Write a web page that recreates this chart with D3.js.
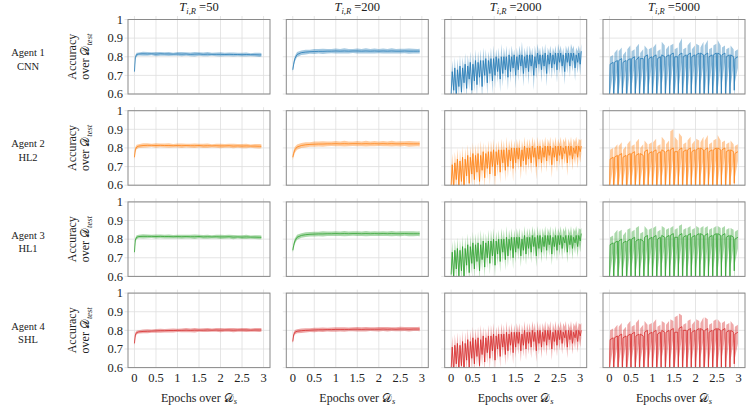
<!DOCTYPE html>
<html>
<head>
<meta charset="utf-8">
<script src="https://cdn.jsdelivr.net/npm/d3@7"></script>
<style>
	body { margin: 0; background: #fff; }
</style>
</head>
<body>
<svg id="chart" width="747" height="406"></svg>
<script>
// labels
var agents = ["Agent 1", "Agent 2", "Agent 3", "Agent 4"];
var nets = ["CNN", "HL2", "HL1", "SHL"];
var thresholds = [50, 200, 2000, 5000];
var colors = ["#1f77b4", "#ff7f0e", "#2ca02c", "#d62728"];
var xTicks = [0, 0.5, 1, 1.5, 2, 2.5, 3];
var xTickLabels = ["0", "0.5", "1", "1.5", "2", "2.5", "3"];
var yTicks = [0.6, 0.7, 0.8, 0.9, 1];
var yTickLabels = ["0.6", "0.7", "0.8", "0.9", "1"];

// smooth runs (T=50, T=200): epochs, mean and std (in %)
var xSmooth = [0, 0.02, 0.05, 0.1, 0.2, 0.3, 0.4, 0.5, 0.6, 0.7, 0.8, 0.9, 1, 1.1, 1.2, 1.3, 1.4, 1.5, 1.6, 1.7, 1.8, 1.9, 2, 2.1, 2.2, 2.3, 2.4, 2.5, 2.6, 2.7, 2.8, 2.9, 2.95];

var mean50_1 = [72, 79.5, 81.2, 81.5, 81.6, 81.5, 81.6, 81.4, 81.6, 81.5, 81.5, 81.4, 81.5, 81.4, 81.5, 81.3, 81.4, 81.5, 81.3, 81.4, 81.3, 81.3, 81.3, 81.2, 81.3, 81.2, 81.2, 81.1, 81.2, 81.1, 81.1, 81.0, 81.0];
var sd50_1 = [1, 1.3, 1, 0.8, 1.1, 1, 0.8, 1.1, 1, 0.9, 1.1, 0.8, 1, 1.1, 0.9, 1, 1.2, 0.9, 1, 1.1, 0.8, 1, 1.1, 0.9, 1, 1.1, 0.9, 1, 1.1, 0.8, 1, 1.1, 1];
var mean200_1 = [73, 76, 79, 81.2, 82.2, 82.5, 82.7, 82.8, 82.9, 82.9, 83, 83, 83.1, 83, 83.1, 83, 83.1, 83.1, 83, 83.1, 83, 83.1, 83, 83.1, 83, 83.1, 83, 83, 83.1, 83, 83, 83, 83];
var sd200_1 = [1.2, 1.6, 1.5, 1.3, 1.2, 1.3, 1.1, 1.3, 1.2, 1.4, 1.2, 1.1, 1.3, 1.2, 1.4, 1.2, 1.1, 1.3, 1.2, 1.4, 1.2, 1.3, 1.1, 1.3, 1.2, 1.4, 1.2, 1.3, 1.2, 1.4, 1.3, 1.2, 1.3];

var mean50_2 = [75, 79, 80.5, 81, 81.3, 81.4, 81.4, 81.3, 81.4, 81.3, 81.3, 81.2, 81.3, 81.2, 81.3, 81.2, 81.2, 81.3, 81.1, 81.2, 81.1, 81.2, 81.1, 81.1, 81.2, 81.0, 81.1, 81.0, 81.1, 81.0, 81.0, 80.9, 80.9];
var sd50_2 = [1.5, 1.4, 1.2, 1, 1.2, 1.1, 0.9, 1.2, 1, 1.1, 1.2, 0.9, 1.1, 1.2, 1, 1.1, 1.2, 1, 1.1, 1.2, 0.9, 1.1, 1.2, 1, 1.1, 1.2, 1, 1.1, 1.2, 0.9, 1.1, 1.2, 1.1];
var mean200_2 = [75, 77, 79, 80.5, 81.3, 81.7, 81.9, 82, 82.1, 82.1, 82.2, 82.2, 82.3, 82.2, 82.3, 82.2, 82.3, 82.3, 82.2, 82.3, 82.2, 82.3, 82.2, 82.3, 82.2, 82.3, 82.2, 82.2, 82.3, 82.2, 82.2, 82.2, 82.2];
var sd200_2 = [1.6, 1.7, 1.6, 1.4, 1.3, 1.4, 1.2, 1.4, 1.3, 1.5, 1.3, 1.2, 1.4, 1.3, 1.5, 1.3, 1.2, 1.4, 1.3, 1.5, 1.3, 1.4, 1.2, 1.4, 1.3, 1.5, 1.3, 1.4, 1.3, 1.5, 1.4, 1.3, 1.4];

var mean50_3 = [73, 79.5, 81, 81.4, 81.5, 81.5, 81.5, 81.4, 81.5, 81.4, 81.4, 81.3, 81.4, 81.3, 81.4, 81.3, 81.3, 81.4, 81.2, 81.3, 81.2, 81.3, 81.2, 81.2, 81.3, 81.1, 81.2, 81.1, 81.2, 81.1, 81.1, 81.0, 81.0];
var sd50_3 = [1.2, 1.3, 1.1, 0.9, 1.1, 1, 0.9, 1.1, 1, 1, 1.1, 0.9, 1, 1.1, 1, 1, 1.2, 0.9, 1, 1.1, 0.9, 1, 1.1, 1, 1, 1.1, 0.9, 1, 1.1, 0.9, 1, 1.1, 1];
var mean200_3 = [74, 76.5, 79, 81, 82, 82.4, 82.6, 82.7, 82.8, 82.8, 82.9, 82.9, 83, 82.9, 83, 82.9, 83, 83, 82.9, 83, 82.9, 83, 82.9, 83, 82.9, 83, 82.9, 82.9, 83, 82.9, 82.9, 82.9, 82.9];
var sd200_3 = [1.3, 1.6, 1.5, 1.3, 1.2, 1.3, 1.2, 1.3, 1.2, 1.4, 1.2, 1.2, 1.3, 1.2, 1.4, 1.2, 1.2, 1.3, 1.2, 1.4, 1.2, 1.3, 1.2, 1.3, 1.2, 1.4, 1.2, 1.3, 1.2, 1.4, 1.3, 1.2, 1.3];

var mean50_4 = [73, 77.5, 78.8, 79.2, 79.4, 79.5, 79.6, 79.7, 79.8, 79.8, 79.9, 79.9, 80, 80, 80.1, 80, 80.1, 80.1, 80.1, 80.2, 80.1, 80.2, 80.1, 80.2, 80.2, 80.1, 80.2, 80.2, 80.2, 80.1, 80.2, 80.2, 80.2];
var sd50_4 = [1.4, 1.3, 1, 0.9, 1, 1.1, 0.9, 1, 1.1, 0.9, 1, 1.1, 0.9, 1, 1.1, 1, 1.2, 0.9, 1, 1.1, 0.9, 1, 1.1, 0.9, 1, 1.1, 0.9, 1, 1.1, 0.9, 1, 1.1, 1];
var mean200_4 = [74, 77.5, 79, 79.5, 79.8, 80, 80.1, 80.2, 80.3, 80.3, 80.4, 80.4, 80.5, 80.5, 80.5, 80.5, 80.6, 80.6, 80.5, 80.6, 80.6, 80.6, 80.6, 80.7, 80.6, 80.7, 80.6, 80.7, 80.7, 80.6, 80.7, 80.7, 80.7];
var sd200_4 = [1.3, 1.4, 1.2, 1.1, 1.2, 1.1, 1, 1.2, 1.1, 1.2, 1, 1.1, 1.2, 1.1, 1.2, 1, 1.1, 1.2, 1.1, 1.2, 1, 1.1, 1.2, 1.1, 1.2, 1, 1.1, 1.2, 1.1, 1.2, 1.1, 1.1, 1.2];

// T=2000: one reset every 0.06 epoch, values as (dip, plateau) pairs, in %
var step2000 = 0.06, offs2000 = [0, 0.025];

var mean2000_1 = [
	60,72, 62,74, 58,73, 64,75, 61,74,
	66,76, 63,75, 68,77, 62,76, 67,78,
	65,77, 69,78, 64,78, 70,79, 66,78,
	71,79, 67,79, 70,80, 72,79, 68,80,
	71,80, 73,80, 69,81, 72,80, 74,81,
	70,80, 73,81, 75,81, 71,80, 74,81,
	72,81, 75,81, 70,80, 74,82, 76,81,
	73,81, 75,82, 71,81, 76,82, 74,81,
	76,82, 73,82, 77,82, 75,81, 72,82,
	77,82, 75,82, 78,82, 74,81, 77,82, 76,83];
var lo2000_1 = [
	55,68, 56,70, 52,69, 58,71, 55,70,
	60,72, 57,71, 62,73, 54,72, 61,74,
	58,73, 63,74, 56,74, 64,75, 59,74,
	65,75, 60,75, 63,76, 66,75, 61,76,
	64,76, 67,76, 62,77, 66,76, 68,77,
	63,76, 67,77, 69,77, 64,76, 68,77,
	65,77, 69,77, 62,76, 68,78, 70,77,
	66,77, 69,78, 64,77, 70,78, 68,77,
	70,78, 66,78, 71,78, 69,77, 65,78,
	71,78, 69,78, 72,78, 67,77, 71,78, 70,79];
var hi2000_1 = [
	66,78, 68,80, 64,79, 70,81, 67,80,
	72,82, 69,81, 74,83, 68,82, 73,84,
	71,83, 75,84, 70,85, 76,84, 72,83,
	77,85, 73,86, 76,84, 78,85, 74,87,
	77,85, 79,86, 75,85, 78,86, 80,84,
	76,85, 79,86, 81,88, 77,85, 80,86,
	78,86, 81,85, 76,86, 80,87, 82,85,
	79,86, 81,87, 77,85, 82,86, 80,85,
	82,86, 79,87, 83,86, 81,85, 78,86,
	83,86, 81,87, 84,86, 80,85, 83,86, 82,87];

var mean2000_2 = [
	60,71, 58,72, 63,74, 59,73, 62,75,
	57,74, 65,76, 61,75, 66,77, 63,76,
	67,77, 62,76, 68,78, 64,77, 69,78,
	66,78, 70,79, 65,78, 71,79, 67,79,
	72,79, 68,80, 70,79, 73,80, 69,80,
	72,80, 74,80, 70,79, 73,81, 71,80,
	74,80, 72,81, 75,80, 70,81, 74,81,
	72,80, 75,81, 73,81, 76,81, 71,80,
	75,81, 73,81, 76,81, 74,80, 77,81,
	72,81, 76,81, 74,80, 77,81, 75,81, 78,81];
var lo2000_2 = [
	54,67, 52,68, 57,70, 53,69, 56,71,
	50,70, 59,72, 55,71, 60,73, 57,72,
	61,73, 55,72, 62,74, 58,73, 63,74,
	60,74, 64,75, 58,74, 65,75, 61,75,
	66,75, 62,76, 64,75, 67,76, 62,76,
	66,76, 68,76, 63,75, 67,77, 65,76,
	68,76, 66,77, 69,76, 63,77, 68,77,
	66,76, 69,77, 67,77, 70,77, 64,76,
	69,77, 67,77, 70,77, 68,76, 71,77,
	65,77, 70,77, 68,76, 71,77, 69,77, 72,77];
var hi2000_2 = [
	66,77, 64,78, 69,80, 65,79, 68,81,
	63,80, 71,82, 67,81, 72,83, 69,82,
	73,83, 68,84, 74,83, 70,82, 75,84,
	72,84, 76,85, 71,83, 77,84, 73,85,
	78,84, 74,86, 76,84, 79,85, 75,84,
	78,85, 80,85, 76,84, 79,86, 77,85,
	80,85, 78,86, 81,85, 76,86, 80,85,
	78,85, 81,86, 79,85, 82,86, 77,85,
	81,86, 79,85, 82,86, 80,85, 83,86,
	78,85, 82,86, 80,85, 83,86, 81,85, 84,85];

var mean2000_3 = [
	61,73, 59,74, 64,75, 60,74, 63,76,
	58,75, 66,77, 62,76, 67,78, 64,77,
	68,78, 63,77, 69,79, 65,78, 70,79,
	67,79, 71,80, 66,79, 72,80, 68,80,
	73,80, 69,81, 71,80, 74,81, 70,81,
	73,81, 75,81, 71,80, 74,82, 72,81,
	75,81, 73,82, 76,81, 71,82, 75,82,
	73,81, 76,82, 74,82, 77,82, 72,81,
	76,82, 74,82, 77,82, 75,81, 78,82,
	73,82, 77,82, 75,81, 78,82, 76,82, 79,83];
var lo2000_3 = [
	55,69, 53,70, 58,71, 54,70, 57,72,
	52,71, 60,73, 56,72, 61,74, 58,73,
	62,74, 57,73, 63,75, 59,74, 64,75,
	61,75, 65,76, 60,75, 66,76, 62,76,
	67,76, 63,77, 65,76, 68,77, 64,77,
	67,77, 69,77, 65,76, 68,78, 66,77,
	69,77, 67,78, 70,77, 65,78, 69,78,
	67,77, 70,78, 68,78, 71,78, 66,77,
	70,78, 68,78, 71,78, 69,77, 72,78,
	67,78, 71,78, 69,77, 72,78, 70,78, 73,79];
var hi2000_3 = [
	67,79, 65,80, 70,81, 66,80, 69,82,
	64,81, 72,83, 68,82, 73,84, 70,83,
	74,84, 69,85, 75,84, 71,83, 76,85,
	73,85, 77,86, 72,84, 78,85, 74,86,
	79,85, 75,87, 77,85, 80,86, 76,85,
	79,86, 81,86, 77,85, 80,87, 78,86,
	81,86, 79,87, 82,86, 77,87, 81,86,
	79,86, 82,87, 80,86, 83,87, 78,86,
	82,87, 80,86, 83,87, 81,86, 84,87,
	79,86, 83,87, 81,86, 84,87, 82,86, 85,86];

var mean2000_4 = [
	59,71, 57,72, 62,73, 58,72, 61,74,
	56,73, 64,75, 60,74, 65,76, 62,75,
	66,76, 61,75, 67,77, 63,76, 68,77,
	65,77, 69,78, 64,77, 70,78, 66,78,
	71,78, 67,79, 69,78, 72,79, 68,79,
	71,79, 73,79, 69,78, 72,80, 70,79,
	73,79, 71,80, 74,79, 69,80, 73,80,
	71,79, 74,80, 72,80, 75,80, 70,79,
	74,80, 72,80, 75,80, 73,79, 76,80,
	71,80, 75,80, 73,79, 76,80, 74,80, 77,80];
var lo2000_4 = [
	53,67, 51,68, 56,69, 52,68, 55,70,
	50,69, 58,71, 54,70, 59,72, 56,71,
	60,72, 55,71, 61,73, 57,72, 62,73,
	59,73, 63,74, 58,73, 64,74, 60,74,
	65,74, 61,75, 63,74, 66,75, 62,75,
	65,75, 67,75, 63,74, 66,76, 64,75,
	67,75, 65,76, 68,75, 63,76, 67,76,
	65,75, 68,76, 66,76, 69,76, 64,75,
	68,76, 66,76, 69,76, 67,75, 70,76,
	65,76, 69,76, 67,75, 70,76, 68,76, 71,76];
var hi2000_4 = [
	65,77, 63,78, 68,79, 64,78, 67,80,
	62,79, 70,81, 66,80, 71,82, 68,81,
	72,82, 67,83, 73,82, 69,81, 74,83,
	71,83, 75,84, 70,82, 76,83, 72,84,
	77,83, 73,85, 75,83, 78,84, 74,83,
	77,84, 79,84, 75,83, 78,85, 76,84,
	79,84, 77,85, 80,84, 75,85, 79,84,
	77,84, 80,85, 78,84, 81,85, 76,84,
	80,85, 78,84, 81,85, 79,84, 82,85,
	77,84, 81,85, 79,84, 82,85, 80,84, 83,84];

// T=5000: one reset every 0.1 epoch, values as (dip, after reset, before next reset), in %
var step5000 = 0.1, offs5000 = [0, 0.015, 0.085];

var mean5000_1 = [
	55,76,77, 52,77,78, 56,78,79, 54,77,78, 50,78,79,
	57,79,80, 53,78,80, 55,79,79, 51,80,81, 56,79,80,
	54,80,81, 52,79,80, 57,81,80, 53,80,81, 55,81,82,
	51,80,80, 56,81,82, 54,80,81, 52,81,82, 57,80,81,
	53,81,82, 55,82,81, 50,81,82, 56,80,81, 54,81,82,
	52,82,81, 57,81,82, 53,80,81, 55,81,80, 62,79,80];
var lo5000_1 = [
	45,60,72, 44,62,73, 46,61,74, 45,63,73, 43,60,74,
	47,64,75, 44,62,74, 46,63,75, 42,61,76, 47,64,75,
	45,63,76, 43,61,75, 48,65,76, 44,62,76, 46,64,77,
	42,60,75, 47,65,77, 45,63,76, 43,62,77, 48,64,76,
	44,63,77, 46,65,76, 41,60,77, 47,64,76, 45,63,77,
	43,62,76, 48,66,77, 44,63,76, 46,64,75, 52,66,74];
var hi5000_1 = [
	68,80,81, 66,82,84, 70,83,85, 67,81,83, 64,84,86,
	71,83,84, 66,85,87, 69,82,84, 63,86,84, 70,84,85,
	68,85,87, 65,83,84, 72,88,86, 66,84,86, 69,86,87,
	64,84,85, 70,87,90, 68,84,85, 65,86,88, 71,84,86,
	67,87,86, 69,85,88, 62,86,89, 70,84,85, 68,86,87,
	65,89,86, 71,85,86, 67,84,85, 69,86,84, 74,83,84];

var mean5000_2 = [
	54,74,75, 51,75,76, 56,76,77, 53,75,76, 50,76,77,
	57,77,78, 52,76,77, 55,77,76, 50,78,79, 56,77,78,
	53,78,79, 51,77,78, 57,79,78, 52,78,79, 55,79,80,
	50,78,78, 56,79,80, 53,78,79, 51,79,80, 57,78,79,
	52,79,80, 55,80,79, 49,79,80, 56,78,79, 53,79,80,
	51,80,79, 57,79,80, 52,78,79, 54,79,78, 61,77,78];
var lo5000_2 = [
	44,59,70, 43,61,71, 45,60,72, 44,62,71, 42,59,72,
	46,63,73, 43,61,72, 45,62,71, 41,60,74, 46,63,73,
	44,62,74, 42,60,73, 47,64,73, 43,61,74, 45,63,75,
	41,59,73, 46,64,75, 44,62,74, 42,61,75, 47,63,74,
	43,62,75, 45,64,74, 40,59,75, 46,63,74, 44,62,75,
	42,61,74, 47,65,75, 43,62,74, 45,63,73, 51,64,73];
var hi5000_2 = [
	67,79,80, 65,80,82, 69,81,83, 66,79,81, 63,82,84,
	70,81,82, 65,83,85, 68,80,82, 62,84,82, 69,82,83,
	67,83,85, 64,81,82, 71,86,84, 65,82,84, 68,89,90,
	63,86,84, 69,88,86, 67,82,83, 64,84,86, 70,82,84,
	66,85,84, 68,83,86, 61,84,87, 69,82,83, 67,84,85,
	64,87,84, 70,83,84, 66,82,83, 68,84,82, 73,81,82];

var mean5000_3 = [
	56,77,78, 53,78,79, 58,79,80, 55,78,79, 52,79,80,
	59,80,81, 54,79,80, 57,80,79, 52,81,82, 58,80,81,
	55,81,82, 53,80,81, 59,82,81, 54,81,82, 57,82,83,
	52,81,81, 58,82,83, 55,81,82, 53,82,83, 59,81,82,
	54,82,83, 57,83,82, 51,82,83, 58,81,82, 55,82,83,
	53,83,82, 59,82,83, 54,81,82, 56,82,81, 63,80,81];
var lo5000_3 = [
	46,61,73, 45,63,74, 47,62,75, 46,64,74, 44,61,75,
	48,65,76, 45,63,75, 47,64,74, 43,62,77, 48,65,76,
	46,64,77, 44,62,76, 49,66,76, 45,63,77, 47,65,78,
	43,61,76, 48,66,78, 46,64,77, 44,63,78, 49,65,77,
	45,64,78, 47,66,77, 42,61,78, 48,65,77, 46,64,78,
	44,63,77, 49,67,78, 45,64,77, 47,65,76, 53,67,75];
var hi5000_3 = [
	69,81,82, 67,83,85, 71,84,85, 68,82,84, 65,85,86,
	72,84,85, 67,86,87, 70,83,84, 64,87,85, 71,85,86,
	69,86,87, 66,84,85, 73,87,86, 67,85,86, 70,86,87,
	65,85,86, 71,87,88, 69,85,86, 66,86,87, 72,85,86,
	68,87,86, 70,86,87, 63,86,87, 71,85,86, 69,86,87,
	66,87,86, 72,86,87, 68,85,86, 70,86,85, 75,84,85];

var mean5000_4 = [
	55,75,76, 52,76,77, 57,77,78, 54,76,77, 51,77,78,
	58,78,79, 53,77,78, 56,78,77, 51,79,80, 57,78,79,
	54,79,80, 52,78,79, 58,80,79, 53,79,80, 56,80,81,
	51,79,79, 57,81,82, 54,80,80, 52,80,81, 58,79,80,
	53,80,81, 56,81,80, 50,80,81, 57,79,80, 54,80,81,
	52,81,80, 58,80,81, 53,79,80, 55,80,79, 62,78,79];
var lo5000_4 = [
	45,60,71, 44,62,72, 46,61,73, 45,63,72, 43,60,73,
	47,64,74, 44,62,73, 46,63,72, 42,61,75, 47,64,74,
	45,63,75, 43,61,74, 48,65,74, 44,62,75, 46,64,76,
	42,60,74, 47,65,76, 45,63,75, 43,62,76, 48,64,75,
	44,63,76, 46,65,75, 41,60,76, 47,64,75, 45,63,76,
	43,62,75, 48,66,76, 44,63,75, 46,64,74, 52,65,73];
var hi5000_4 = [
	68,80,81, 66,81,83, 70,82,84, 67,80,82, 64,83,85,
	71,82,83, 66,84,86, 69,81,83, 63,85,83, 70,83,84,
	68,84,86, 65,82,83, 72,85,84, 66,83,85, 69,86,85,
	64,87,88, 70,89,88, 68,83,84, 65,85,86, 71,83,85,
	67,86,85, 69,84,87, 62,87,86, 70,83,84, 68,85,86,
	65,86,84, 71,84,85, 67,83,84, 69,85,83, 74,82,83];

// build one table per panel: [row][col] -> points {x, m, lo, hi}
function smooth(mean, sd) {
	return xSmooth.map(function (x, i) {
		return { x: x, m: mean[i] / 100, lo: (mean[i] - sd[i]) / 100, hi: (mean[i] + sd[i]) / 100 };
	});
}
function resets(mean, lo, hi, step, offs) {
	var n = offs.length;
	return mean.map(function (v, i) {
		return { x: Math.floor(i / n) * step + offs[i % n], m: v / 100, lo: lo[i] / 100, hi: hi[i] / 100 };
	});
}

var panels = [
	[smooth(mean50_1, sd50_1), smooth(mean200_1, sd200_1),
	 resets(mean2000_1, lo2000_1, hi2000_1, step2000, offs2000), resets(mean5000_1, lo5000_1, hi5000_1, step5000, offs5000)],
	[smooth(mean50_2, sd50_2), smooth(mean200_2, sd200_2),
	 resets(mean2000_2, lo2000_2, hi2000_2, step2000, offs2000), resets(mean5000_2, lo5000_2, hi5000_2, step5000, offs5000)],
	[smooth(mean50_3, sd50_3), smooth(mean200_3, sd200_3),
	 resets(mean2000_3, lo2000_3, hi2000_3, step2000, offs2000), resets(mean5000_3, lo5000_3, hi5000_3, step5000, offs5000)],
	[smooth(mean50_4, sd50_4), smooth(mean200_4, sd200_4),
	 resets(mean2000_4, lo2000_4, hi2000_4, step2000, offs2000), resets(mean5000_4, lo5000_4, hi5000_4, step5000, offs5000)]
];

// layout
var svg = d3.select('#chart');
var pw = 142, ph = 74.5;
var colX = [128, 286.3, 444.7, 603];
var rowY = [19.5, 110.7, 201.9, 293.1];
var gridColor = "#dedede", frameColor = "#8a8a8a";

var x = d3.scaleLinear().domain([-0.15, 3.15]).range([0, pw]);
var y = d3.scaleLinear().domain([0.6, 1]).range([ph, 0]);

svg.append("defs").append("clipPath").attr("id", "clip")
	.append("rect").attr("width", pw).attr("height", ph);

var area = d3.area()
	.x(function (d) { return x(d.x); })
	.y0(function (d) { return y(d.lo); })
	.y1(function (d) { return y(d.hi); });
var line = d3.line()
	.x(function (d) { return x(d.x); })
	.y(function (d) { return y(d.m); });

function label(sel, size) {
	return sel.append("text").style("font-family", "'Liberation Serif'")
		.style("font-size", size + "px").attr("fill", "#222");
}

rowY.forEach(function (ry, r) {
	colX.forEach(function (cx, c) {
		var g = svg.append("g").attr("transform", "translate(" + cx + "," + ry + ")");

		// grid, sticking out a little like outward ticks
		g.append("g").selectAll("line").data(xTicks).enter().append("line")
			.attr("x1", function (d) { return x(d); }).attr("x2", function (d) { return x(d); })
			.attr("y1", -3.5).attr("y2", ph)
			.attr("stroke", gridColor).attr("stroke-width", 0.8);
		g.append("g").selectAll("line").data(yTicks).enter().append("line")
			.attr("x1", -3.5).attr("x2", pw)
			.attr("y1", function (d) { return y(d); }).attr("y2", function (d) { return y(d); })
			.attr("stroke", gridColor).attr("stroke-width", 0.8);

		// band + mean
		var plot = g.append("g").attr("clip-path", "url(#clip)");
		plot.append("path").datum(panels[r][c])
			.attr("d", area)
			.attr("fill", colors[r]).attr("fill-opacity", 0.4);
		plot.append("path").datum(panels[r][c])
			.attr("d", line)
			.attr("fill", "none").attr("stroke", colors[r])
			.attr("stroke-width", 0.9).attr("stroke-opacity", 0.85)
			.attr("stroke-linejoin", "round");

		// frame
		g.append("rect").attr("width", pw).attr("height", ph)
			.attr("fill", "none").attr("stroke", frameColor).attr("stroke-width", 1);

		// y tick labels on first column
		if (c == 0) {
			yTicks.forEach(function (d, i) {
				label(g, 12.5).attr("x", -5).attr("y", y(d) + 4.2)
					.attr("text-anchor", "end").text(yTickLabels[i]);
			});
		}
		// x tick labels + axis label on last row
		if (r == 3) {
			xTicks.forEach(function (d, i) {
				label(g, 12.5).attr("x", x(d)).attr("y", ph + 14)
					.attr("text-anchor", "middle").text(xTickLabels[i]);
			});
			var xl = label(g, 12).attr("x", pw / 2).attr("y", ph + 34).attr("text-anchor", "middle");
			xl.append("tspan").text("Epochs over ");
			xl.append("tspan").text("\uD835\uDC9F");
			xl.append("tspan").attr("dy", 2.5).style("font-size", "8.5px").style("font-style", "italic").text("s");
		}
		// column titles
		if (r == 0) {
			var t = label(g, 12.5).attr("x", pw / 2).attr("y", -8.5).attr("text-anchor", "middle");
			t.append("tspan").style("font-style", "italic").text("T");
			t.append("tspan").attr("dy", 2.5).style("font-size", "8.5px").style("font-style", "italic").text("i,R");
			t.append("tspan").attr("dy", -2.5).text(" =" + thresholds[c]);
		}
	});

	// row labels
	var mid = ry + ph / 2;
	label(svg, 10.5).attr("x", 28).attr("y", mid - 0.5).attr("text-anchor", "middle").text(agents[r]);
	label(svg, 10.5).attr("x", 28).attr("y", mid + 13).attr("text-anchor", "middle").text(nets[r]);

	// y axis label
	var yl = svg.append("g").attr("transform", "translate(76," + mid + ") rotate(-90)");
	label(yl, 12).attr("text-anchor", "middle").text("Accuracy");
	var y2 = label(yl, 12).attr("y", 13).attr("text-anchor", "middle");
	y2.append("tspan").text("over ");
	y2.append("tspan").text("\uD835\uDC9F");
	y2.append("tspan").attr("dy", 2.5).style("font-size", "8.5px").style("font-style", "italic").text("test");
});
</script>
</body>
</html>
